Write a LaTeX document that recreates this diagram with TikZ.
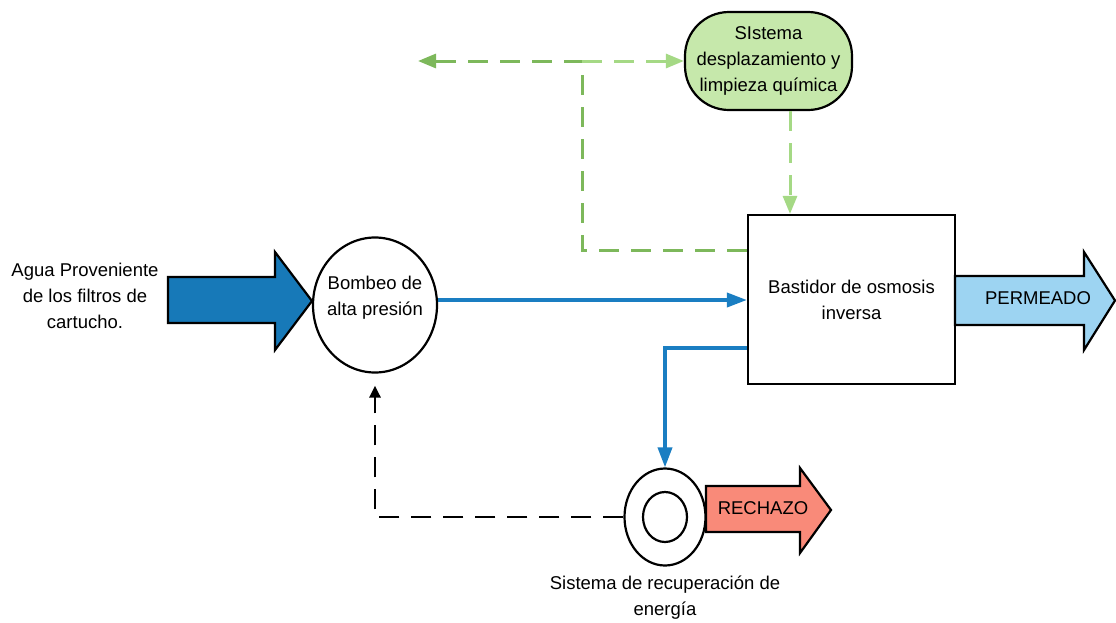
\documentclass[tikz,border=0pt]{standalone}
\usepackage{fontspec}
\setmainfont{Liberation Sans}
\usetikzlibrary{arrows.meta,shapes.geometric}
\definecolor{dkblue}{HTML}{1779B8}
\definecolor{lnblue}{HTML}{1A7EC2}
\definecolor{ltblue}{HTML}{9DD4F2}
\definecolor{salmon}{HTML}{F98A79}
\definecolor{gfill}{HTML}{C6E8AB}
\definecolor{dkgreen}{HTML}{7DB85B}
\definecolor{ltgreen}{HTML}{A5D985}
\tikzset{
  txt/.style={font=\fontsize{18.5}{26}\selectfont, align=center, inner sep=0pt},
  outline/.style={draw=black, line width=2.2pt},
  bigarrow/.style={outline, line join=miter},
  flow/.style={draw=lnblue, line width=3.6pt, -{Triangle[length=20pt,width=14pt]}},
  gdash/.style={line width=3pt, dash pattern=on 20pt off 12pt},
  gtip/.style={-{Triangle[length=18pt,width=14pt]}},
  kdash/.style={draw=black, line width=2.8pt, dash pattern=on 20pt off 12pt, -{Triangle[length=12pt,width=11pt]}}
}
\begin{document}
\begin{tikzpicture}[x=1pt,y=-1pt]
\useasboundingbox (0,0) rectangle (1116,622);

% big arrows (shapes)
\path[bigarrow, fill=dkblue] (168,277) -- (275,277) -- (275,252) -- (312,301) -- (275,350) -- (275,323) -- (168,323) -- cycle;
\path[bigarrow, fill=ltblue] (955,276) -- (1084,276) -- (1084,252) -- (1115,300.5) -- (1084,350) -- (1084,325) -- (955,325) -- cycle;
\path[bigarrow, fill=salmon] (706,486) -- (800,486) -- (800,468) -- (831,510) -- (800,553) -- (800,532) -- (706,532) -- cycle;

% nodes
\node[outline, fill=gfill, rounded corners=44pt, minimum width=167pt, minimum height=98pt, txt] (green) at (768.5,61) {SIstema\\desplazamiento y\\limpieza química};
\node[outline, minimum width=207pt, minimum height=169pt, txt] (bast) at (851.5,299.5) {Bastidor de osmosis\\inversa};
\node[outline, ellipse, fill=white, minimum width=124pt, minimum height=135pt, inner sep=0pt] (pump) at (375,305) {};
\node[txt] (pumptxt) at (375,298) {Bombeo de\\alta presión};
\node[outline, ellipse, fill=white, minimum width=81pt, minimum height=97pt, inner sep=0pt] (ring) at (665,517) {};
\node[outline, ellipse, minimum width=44pt, minimum height=50pt, inner sep=0pt] (ringin) at (665,517) {};

% texts
\node[txt] (agua) at (85,296) {Agua Proveniente\\de los filtros de\\cartucho.};
\node[txt] (perm) at (1038,298) {PERMEADO};
\node[txt] (rech) at (763,508) {RECHAZO};
\node[txt] (rtxt) at (665,598) {Sistema de recuperación de\\energía};

% coordinates
\coordinate (j) at (582,61);
\coordinate (lend) at (418,61);
\coordinate (gy) at (0,250);
\coordinate (gx) at (790,0);
\coordinate (by) at (0,348);
\coordinate (fy) at (0,300);

% green connectors
\draw[dkgreen, gdash, gtip] (bast.west |- gy) -- (j |- gy) -- (j) -- (lend);
\draw[ltgreen, gdash, gtip] (j) -- (green.west);
\draw[ltgreen, gdash, gtip] (green.south -| gx) -- (bast.north -| gx);

% blue connectors
\draw[flow] (pump.east |- fy) -- (bast.west |- fy);
\draw[flow] (bast.west |- by) -| (ring.north);

% black dashed
\draw[kdash, shorten >=12pt] (ring.west) -| (pump.south);
\end{tikzpicture}
\end{document}
